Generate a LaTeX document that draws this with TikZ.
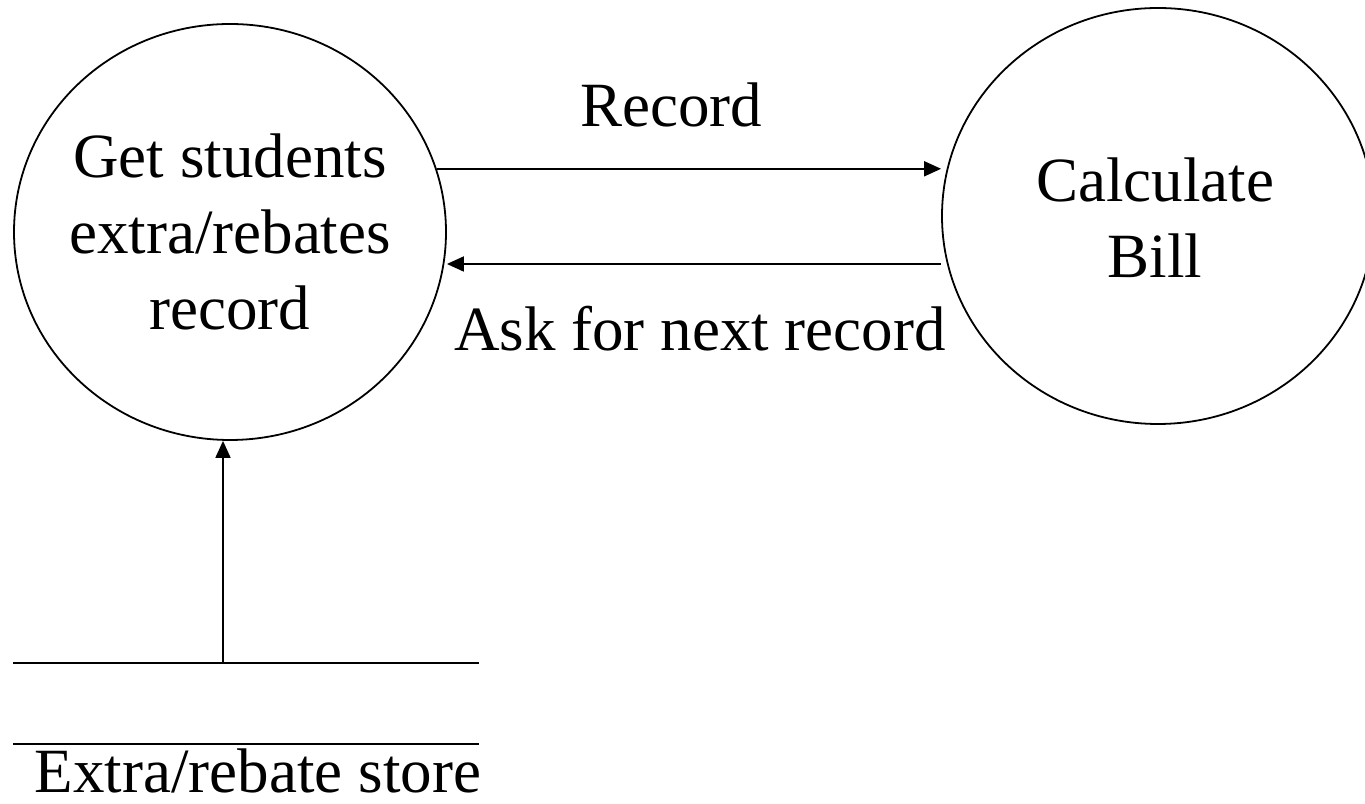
\documentclass[tikz,border=0pt]{standalone}
\usepackage{fontspec}
\setmainfont{Liberation Serif}
\usetikzlibrary{shapes.geometric,arrows.meta}
\begin{document}
\begin{tikzpicture}[x=1pt,y=1pt,
  every node/.style={font=\fontsize{63}{76}\selectfont},
  process/.style={ellipse,draw,line width=1.8pt,minimum width=432pt,minimum height=416pt,inner sep=0pt},
  caption/.style={align=center,inner sep=0pt},
  flow/.style={line width=1.8pt,-{Triangle[length=17pt,width=15pt]}},
  storeline/.style={line width=1.8pt}]
\useasboundingbox (0,0) rectangle (1365,803);
\clip (0,0) rectangle (1365,803);

% processes
\node[process] (get) at (230,571) {};
\node[caption] (gettext) at (get.center) {Get students\\extra/rebates\\record};
\node[process] (calc) at (1158,587) {};
\node[caption] (calctext) at ([xshift=-3pt,yshift=-2pt]calc.center) {Calculate\\Bill};

% data store
\coordinate (storeTL) at (13,140);
\coordinate (storeTR) at (479,140);
\coordinate (storeBL) at (13,59);
\coordinate (storeBR) at (479,59);
\draw[storeline] (storeTL) -- (storeTR);
\draw[storeline] (storeBL) -- (storeBR);
\node[anchor=base,text depth=0pt,inner ysep=0pt] (storelabel) at (258,10) {Extra/rebate store};

% flows
\coordinate (askrow) at (0,539);
\coordinate (storeout) at (223,140);
\draw[flow] (get.17) -- (get.17 -| calc.west);
\draw[flow] (askrow -| calc.west) -- (askrow -| get.east);
\draw[flow] (storeout) -- (storeout |- get.south);

% flow labels
\node[anchor=base] (reclabel) at (671,676) {Record};
\node[anchor=base] (asklabel) at (700,452) {Ask for next record};
\end{tikzpicture}
\end{document}
